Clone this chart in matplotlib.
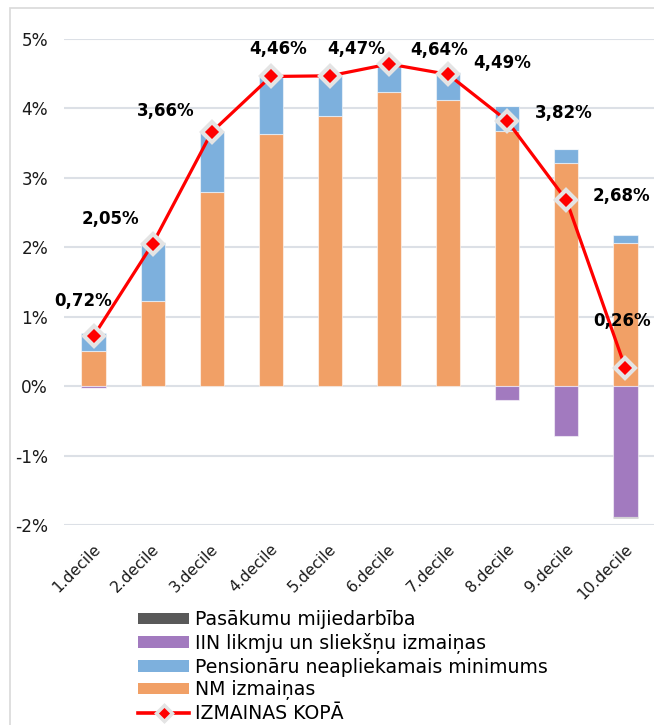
import matplotlib
matplotlib.use("Agg")
import matplotlib.pyplot as plt
import numpy as np
from matplotlib.patches import Rectangle, Patch
from matplotlib.lines import Line2D
import matplotlib.transforms as mtransforms

plt.rcParams['font.family'] = ['DejaVu Sans']

# Data (percent change in disposable income by decile)
deciles = ["1.decile", "2.decile", "3.decile", "4.decile", "5.decile",
           "6.decile", "7.decile", "8.decile", "9.decile", "10.decile"]
nm_change = [0.51, 1.22, 2.80, 3.63, 3.89, 4.23, 4.12, 3.68, 3.22, 2.06]
pensioner_min = [0.25, 0.85, 0.87, 0.84, 0.59, 0.41, 0.40, 0.35, 0.19, 0.11]
iin_rates = [-0.02, 0.00, 0.00, 0.01, 0.00, 0.00, 0.01, -0.20, -0.72, -1.89]
interaction = [-0.01, 0.00, 0.00, 0.00, 0.00, 0.00, 0.00, 0.00, 0.00, -0.01]
total = [0.72, 2.05, 3.66, 4.46, 4.47, 4.64, 4.49, 3.82, 2.68, 0.26]

# label offsets in pixels (dx, dy) relative to each total marker
label_offsets = [(-10, 35), (-42, 25), (-46, 21), (7, 27), (26, 27),
                 (50, 14), (54, 11), (57, 8), (55, 4), (-3, 47)]

c_orange = "#F1A066"
c_blue = "#7DB0DD"
c_purple = "#A27ABF"
c_grey = "#595959"
c_red = "#FF0000"
c_grid = "#DCE0E6"

W, H = 654, 725
fig = plt.figure(figsize=(W / 100, H / 100), dpi=100)
ax = fig.add_axes([64 / W, 1 - 525 / H, (655 - 64) / W, (525 - 39) / H])

x = np.arange(len(deciles))
width = 0.41
edge = dict(edgecolor=(1, 1, 1, 0.55), linewidth=0.8)

nm = np.array(nm_change)
pe = np.array(pensioner_min)
ii = np.array(iin_rates)
mi = np.array(interaction)

ax.bar(x, nm, width, color=c_orange, zorder=2, **edge)
ax.bar(x, pe, width, bottom=nm, color=c_blue, zorder=2, **edge)
pos_top = nm + pe
ii_bottom = np.where(ii >= 0, pos_top, 0)
ax.bar(x, ii, width, bottom=ii_bottom, color=c_purple, zorder=2, **edge)
mi_bottom = np.where(mi >= 0, pos_top + np.clip(ii, 0, None), np.clip(ii, None, 0))
ax.bar(x, mi, width, bottom=mi_bottom, color=c_grey, zorder=2, **edge)

ax.plot(x, total, color=c_red, lw=2.3, zorder=3, marker="D", markersize=10,
        markerfacecolor=c_red, markeredgecolor="#E4E4E4", markeredgewidth=3)

for xi, v, (dx, dy) in zip(x, total, label_offsets):
    ax.annotate(f"{v:.2f}%".replace(".", ","), (xi, v), xytext=(dx, dy),
                textcoords="offset pixels", ha="center", va="center",
                fontsize=12, fontweight="bold", color="black",
                annotation_clip=False, zorder=5)

ax.set_xlim(-0.5, len(deciles) - 0.5)
ax.set_ylim(-2, 5)
ax.set_yticks(range(-2, 6))
ax.set_yticklabels([f"{v}%" for v in range(-2, 6)], fontsize=12.2, color="#1A1A1A")
ax.yaxis.grid(True, color=c_grid, lw=1.5, zorder=0)
ax.set_axisbelow(True)
ax.tick_params(axis="y", length=0, pad=11.5)
ax.tick_params(axis="x", length=0, pad=12)
ax.set_xticks(x)
ax.set_xticklabels(deciles, rotation=45, ha="right", va="top",
                   rotation_mode="anchor", fontsize=11.2, color="#1A1A1A")
offset = mtransforms.ScaledTranslation(-1 / 100, 0, fig.dpi_scale_trans)
for lbl in ax.get_xticklabels():
    lbl.set_transform(lbl.get_transform() + offset)
for s in ax.spines.values():
    s.set_visible(False)

# outer chart frame
fig.patches.append(Rectangle((10 / W, -0.1), 1.2, 1.1 - 8 / H,
                             transform=fig.transFigure, fill=False,
                             edgecolor="#D9D9D9", lw=1.2, zorder=0))

handles = [
    Patch(facecolor=c_grey, edgecolor="none"),
    Patch(facecolor=c_purple, edgecolor="none"),
    Patch(facecolor=c_blue, edgecolor="none"),
    Patch(facecolor=c_orange, edgecolor="none"),
    Line2D([0], [0], color=c_red, lw=2.6, marker="D", markersize=8,
           markerfacecolor=c_red, markeredgecolor="#E4E4E4", markeredgewidth=2.5),
]
labels = ["Pasākumu mijiedarbība", "IIN likmju un sliekšņu izmaiņas",
          "Pensionāru neapliekamais minimums", "NM izmaiņas", "IZMAINAS KOPĀ"]
fig.legend(handles, labels, loc="upper left",
           bbox_to_anchor=(138 / W, 1 - 610 / H), frameon=False,
           fontsize=13.6, handlelength=2.7, handleheight=0.56,
           handletextpad=0.3, labelspacing=0.2, borderpad=0, borderaxespad=0)

fig.savefig("out.png", dpi=100)
